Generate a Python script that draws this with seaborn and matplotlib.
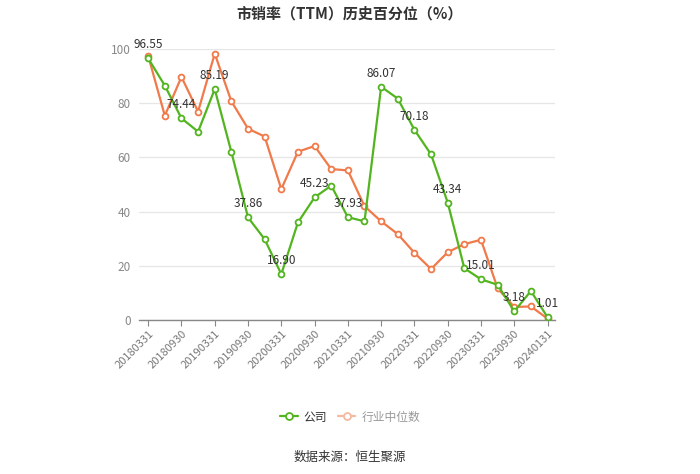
import matplotlib
matplotlib.use("Agg")
import matplotlib.pyplot as plt
import seaborn as sns
import pandas as pd
import numpy as np
from matplotlib.lines import Line2D

dates = ["20180331", "20180630", "20180930", "20181231",
         "20190331", "20190630", "20190930", "20191231",
         "20200331", "20200630", "20200930", "20201231",
         "20210331", "20210630", "20210930", "20211231",
         "20220331", "20220630", "20220930", "20221231",
         "20230331", "20230630", "20230930", "20231231",
         "20240131"]
company = [96.55, 86.5, 74.44, 69.5, 85.19, 62.0, 37.86, 29.8, 16.90,
           36.0, 45.23, 49.6, 37.93, 36.4, 86.07, 81.7, 70.18, 61.1,
           43.34, 19.1, 15.01, 13.0, 3.18, 10.7, 1.01]
industry = [97.5, 75.4, 89.7, 76.9, 98.3, 80.7, 70.6, 67.7, 48.3, 62.1,
            64.2, 55.7, 55.2, 42.0, 36.4, 31.7, 24.8, 18.8, 25.0, 28.0,
            29.6, 11.7, 4.8, 5.0, 0.5]
label_idx = [0, 2, 4, 6, 8, 10, 12, 14, 16, 18, 20, 22, 24]
series_names = ["公司", "行业中位数"]
title = "市销率（TTM）历史百分位（%）"
source = "数据来源：恒生聚源"

GREEN = "#52b51f"
ORANGE = "#f07a4a"

sns.set_theme(style="white")
plt.rcParams["font.family"] = ["Noto Sans CJK SC", "DejaVu Sans"]

df = pd.DataFrame({"idx": np.arange(len(dates)), "company": company, "industry": industry})

fig = plt.figure(figsize=(7, 4.74), dpi=100)
ax = fig.add_axes([0.1986, 0.3249, 0.5943, 0.5717])

for col, color in [("industry", ORANGE), ("company", GREEN)]:
    sns.lineplot(data=df, x="idx", y=col, ax=ax, color=color, linewidth=1.6,
                 marker="o", markersize=4.2, markerfacecolor="white",
                 markeredgecolor=color, markeredgewidth=1.3, zorder=3 if col == "company" else 2)

for i in label_idx:
    ax.annotate(f"{company[i]:.2f}", (i, company[i]), xytext=(0, 5),
                textcoords="offset points", ha="center", va="bottom",
                fontsize=8.5, color="#333333", zorder=5)

ax.set_xlim(-0.55, 24.45)
ax.set_ylim(0, 100)
ax.set_yticks([0, 20, 40, 60, 80, 100])
ax.set_xticks(range(0, len(dates), 2))
ax.set_xticklabels([dates[i] for i in range(0, len(dates), 2)], rotation=45,
                   ha="right", rotation_mode="anchor", fontsize=8, color="#777777")
ax.tick_params(axis="y", labelsize=8.5, labelcolor="#888888", length=0, pad=6)
ax.tick_params(axis="x", length=4, color="#888888", width=0.8, bottom=True, pad=2)
ax.set_xlabel("")
ax.set_ylabel("")
ax.grid(axis="y", color="#e6e6e6", linewidth=0.9)
ax.grid(axis="x", visible=False)
for s in ["top", "right", "left"]:
    ax.spines[s].set_visible(False)
ax.spines["bottom"].set_color("#888888")
ax.spines["bottom"].set_linewidth(1.0)

fig.text(0.5, 0.972, title, ha="center", va="center", fontsize=10.8,
         fontweight="bold", color="#333333")

handles = [Line2D([0], [0], color=GREEN, lw=1.6, marker="o", markersize=5,
                  markerfacecolor="white", markeredgecolor=GREEN, markeredgewidth=1.3),
           Line2D([0], [0], color="#f5b8a0", lw=1.6, marker="o", markersize=5,
                  markerfacecolor="white", markeredgecolor="#f5b8a0", markeredgewidth=1.3)]
leg = fig.legend(handles, series_names, loc="center", bbox_to_anchor=(0.5, 0.12),
                 ncol=2, frameon=False, fontsize=8.5, handlelength=1.5,
                 columnspacing=0.9, handletextpad=0.5)
leg.get_texts()[0].set_color("#333333")
leg.get_texts()[1].set_color("#999999")

fig.text(0.5, 0.034, source, ha="center", va="center", fontsize=9, color="#333333")

fig.savefig("out.png", dpi=100)
